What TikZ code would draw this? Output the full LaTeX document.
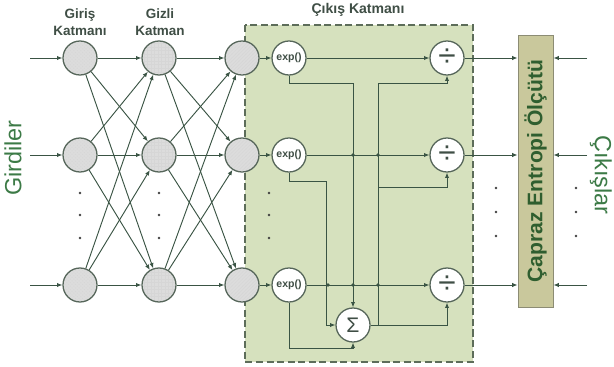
\documentclass[tikz,border=0pt]{standalone}
\usepackage{fontspec}
\setmainfont{Liberation Sans}
\usepackage{graphicx}
\usetikzlibrary{arrows.meta,positioning,calc,patterns}
\definecolor{cizgi}{HTML}{3A5444}
\definecolor{cember}{HTML}{56665A}
\definecolor{norondolgu}{HTML}{DCDCDC}
\definecolor{katman}{HTML}{D6E1BE}
\definecolor{katmancizgi}{HTML}{5D6D5A}
\definecolor{olcut}{HTML}{C9C89C}
\definecolor{olcutcizgi}{HTML}{8C8C74}
\definecolor{olcutyazi}{HTML}{2F5E2F}
\definecolor{baslikrenk}{HTML}{3F4E45}
\definecolor{yesilyazi}{HTML}{3C7A46}
\tikzset{
  noron/.style={circle,draw=cember,line width=1.1pt,minimum size=1.02cm,inner sep=0pt,
                preaction={fill=norondolgu},preaction={pattern=#1,pattern color=gray!32}},
  islem/.style={circle,draw=cember,line width=1.1pt,fill=white,minimum size=1.02cm,inner sep=0pt},
  ok/.style={-{Latex[length=1.6mm,width=1.3mm]},cizgi,line width=0.8pt},
  hat/.style={cizgi,line width=0.8pt},
  baslik/.style={font=\fontsize{11.5}{14.5}\selectfont\bfseries,text=baslikrenk,align=center},
  yanyazi/.style={font=\fontsize{20}{24}\selectfont,text=yesilyazi},
}

\begin{document}
\begin{tikzpicture}[x=0.03cm,y=-0.03cm]
  \useasboundingbox (0,0) rectangle (614,367);
  % cikis katmani
  \draw[katmancizgi,fill=katman,line width=1pt,dash pattern=on 6pt off 3pt] (245,25) rectangle (473,362);
  \node[baslik,font=\fontsize{12}{14}\selectfont\bfseries] (cbaslik) at (358,10) {Çıkış Katmanı};
  \node[baslik] (gbaslik) at (80,22) {Giriş\\Katmanı};
  \node[baslik] (hbaslik) at (160,22) {Gizli\\Katman};
  \node[yanyazi,rotate=90] (girdi) at (13,158) {Girdiler};
  \node[yanyazi,rotate=-90] (cikti) at (601,175) {Çıkışlar};

  \node[draw=olcutcizgi,fill=olcut,line width=0.8pt,minimum width=1.05cm,minimum height=8.16cm,inner sep=0pt]
    (ce) at (535.5,171) {\rotatebox{90}{\fontsize{18}{20}\selectfont\bfseries\color{olcutyazi}Çapraz Entropi Ölçütü}};

  \foreach \i/\y in {1/58,2/155,3/285}{
    \node[noron=crosshatch dots] (g\i) at (80,\y) {};
    \node[noron=grid] (h\i) at (159,\y) {};
    \node[noron=north east lines] (c\i) at (242,\y) {};
    \node[islem,font=\fontsize{9}{10}\selectfont\bfseries,text=baslikrenk] (e\i) at (289,\y) {exp()};
    \node[islem,font=\fontsize{27}{27}\selectfont,text=baslikrenk] (d\i) at (447,\y) {÷};
    \coordinate (x\i) at (30,\y);
    \coordinate (y\i) at (587,\y);
  }
  \node[islem,font=\fontsize{18}{18}\selectfont,text=baslikrenk] (s) at (353,325) {Σ};

  \foreach \i in {1,2,3}{
    \draw[ok] (x\i) -- (g\i);
    \foreach \j in {1,2,3}{
      \draw[ok] (g\i) -- (h\j);
      \draw[ok] (h\i) -- (c\j);
    }
    \draw[ok] (c\i) -- (e\i);
    \draw[ok] (e\i) -- (d\i);
    \draw[ok] (d\i) -- (d\i -| ce.west);
    \draw[ok] (y\i) -- (y\i -| ce.east);
  }

  % toplam ve bolme
  \draw[ok] (e1.south) -- ++(0,8) -| (s.north);
  \draw[ok] (e2.south) -- ++(0,9) -| ($(s.west)+(-9,0)$) -- (s.west);
  \draw[ok] (e3.south) -- ++(0,46) -| (s.south);
  \coordinate (b1) at (378,83);
  \coordinate (b2) at (378,187);
  \draw[ok] (s.east) -| (d3.south);
  \draw[hat] (s.east -| b1) -- (b1);
  \draw[ok] (b1) -| (d1.south);
  \draw[ok] (b2) -| (d2.south);
  \foreach \p in {(353,155),(378,155),(328,285),(353,285),(378,285)}
    \fill[cizgi] \p circle (1.5pt);

  % noktalar
  \foreach \x in {80,159,269}
    \foreach \y in {193,215,238}
      \fill[black!75] (\x,\y) circle (1.1pt);
  \foreach \x in {496,576}
    \foreach \y in {188,212,236}
      \fill[black!75] (\x,\y) circle (1.1pt);
\end{tikzpicture}
\end{document}
